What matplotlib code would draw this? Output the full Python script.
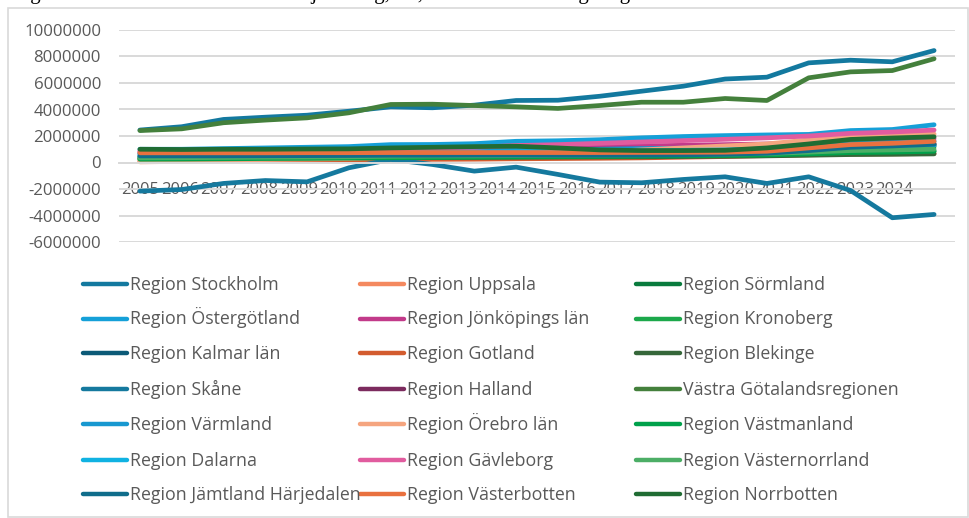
"""Regional results 2005-2024, Excel-style line chart with 3-column legend."""
import matplotlib
matplotlib.use("Agg")
import matplotlib.pyplot as plt
import matplotlib.patches as mpatches
from matplotlib.lines import Line2D
from matplotlib.ticker import FuncFormatter
import numpy as np

W, H = 969, 518

years = list(range(2005, 2025))

# values in millions
stockholm = [2.45, 2.70, 3.25, 3.42, 3.57, 3.87, 4.20, 4.13, 4.33, 4.68, 4.70, 5.00, 5.38, 5.76, 6.30, 6.44, 7.52, 7.72, 7.60, 8.45]
uppsala = [0.05, 0.08, 0.15, 0.20, 0.22, 0.26, 0.30, 0.33, 0.36, 0.40, 0.45, 0.50, 0.55, 0.60, 0.65, 0.72, 0.95, 1.20, 1.30, 1.45]
sormland = [0.40, 0.40, 0.42, 0.44, 0.45, 0.48, 0.52, 0.55, 0.57, 0.60, 0.62, 0.64, 0.66, 0.68, 0.70, 0.75, 0.90, 1.05, 1.10, 1.20]
ostergotland = [1.00, 1.00, 1.05, 1.10, 1.15, 1.20, 1.35, 1.36, 1.42, 1.60, 1.64, 1.72, 1.86, 1.96, 2.03, 2.08, 2.12, 2.41, 2.49, 2.85]
jonkoping = [0.85, 0.85, 0.88, 0.90, 0.92, 0.95, 1.05, 1.08, 1.10, 1.15, 1.18, 1.20, 1.25, 1.30, 1.35, 1.40, 1.50, 1.65, 1.70, 1.80]
kronoberg = [0.28, 0.30, 0.32, 0.33, 0.35, 0.37, 0.40, 0.42, 0.43, 0.45, 0.47, 0.50, 0.52, 0.55, 0.58, 0.62, 0.70, 0.78, 0.80, 0.85]
kalmar = [0.45, 0.45, 0.47, 0.48, 0.50, 0.52, 0.55, 0.56, 0.58, 0.60, 0.60, 0.62, 0.63, 0.65, 0.68, 0.75, 0.95, 1.15, 1.22, 1.30]
gotland = [0.15, 0.16, 0.18, 0.19, 0.20, 0.21, 0.23, 0.24, 0.25, 0.28, 0.30, 0.32, 0.35, 0.40, 0.45, 0.52, 0.58, 0.63, 0.65, 0.68]
blekinge = [0.30, 0.30, 0.31, 0.32, 0.33, 0.34, 0.36, 0.37, 0.38, 0.40, 0.41, 0.42, 0.43, 0.45, 0.47, 0.50, 0.55, 0.60, 0.62, 0.65]
skane = [-2.16, -2.04, -1.58, -1.36, -1.46, -0.40, 0.23, -0.15, -0.65, -0.35, -0.90, -1.48, -1.53, -1.28, -1.08, -1.58, -1.08, -2.11, -4.17, -3.92]
halland = [0.70, 0.70, 0.72, 0.74, 0.76, 0.78, 0.85, 0.88, 0.90, 0.95, 0.98, 1.00, 1.02, 1.05, 1.08, 1.12, 1.20, 1.30, 1.32, 1.38]
vgr = [2.41, 2.54, 3.00, 3.20, 3.37, 3.75, 4.38, 4.40, 4.30, 4.20, 4.08, 4.30, 4.55, 4.55, 4.83, 4.68, 6.39, 6.84, 6.94, 7.83]
varmland = [0.65, 0.66, 0.68, 0.70, 0.72, 0.75, 0.82, 0.85, 0.88, 0.95, 0.98, 1.00, 1.05, 1.08, 1.12, 1.18, 1.30, 1.45, 1.50, 1.60]
orebro = [0.10, 0.12, 0.18, 0.22, 0.26, 0.30, 0.40, 0.45, 0.50, 0.60, 0.70, 0.80, 0.95, 1.10, 1.25, 1.40, 1.70, 2.00, 2.05, 2.15]
vastmanland = [0.25, 0.26, 0.28, 0.30, 0.31, 0.33, 0.36, 0.38, 0.40, 0.42, 0.44, 0.46, 0.48, 0.50, 0.53, 0.57, 0.65, 0.75, 0.78, 0.85]
dalarna = [0.55, 0.56, 0.58, 0.60, 0.62, 0.65, 0.72, 0.74, 0.76, 0.80, 0.82, 0.85, 0.88, 0.92, 0.95, 1.00, 1.10, 1.20, 1.25, 1.30]
gavleborg = [0.80, 0.82, 0.85, 0.88, 0.90, 0.95, 1.05, 1.10, 1.15, 1.28, 1.35, 1.45, 1.55, 1.65, 1.75, 1.86, 2.00, 2.20, 2.30, 2.45]
vasternorrland = [0.35, 0.36, 0.38, 0.40, 0.41, 0.43, 0.47, 0.49, 0.50, 0.52, 0.54, 0.56, 0.58, 0.60, 0.63, 0.68, 0.78, 0.90, 0.95, 1.00]
jamtland = [0.50, 0.50, 0.50, 0.51, 0.52, 0.53, 0.55, 0.55, 0.56, 0.56, 0.55, 0.55, 0.56, 0.58, 0.62, 0.70, 0.90, 1.15, 1.25, 1.38]
vasterbotten = [0.73, 0.73, 0.73, 0.73, 0.74, 0.74, 0.75, 0.75, 0.75, 0.75, 0.75, 0.75, 0.76, 0.77, 0.78, 0.85, 1.10, 1.35, 1.45, 1.60]
norrbotten = [1.00, 0.98, 1.00, 1.00, 1.02, 1.03, 1.10, 1.15, 1.20, 1.23, 1.10, 0.95, 0.90, 0.90, 0.92, 1.10, 1.40, 1.74, 1.85, 1.94]

# legend order (row by row, 3 columns)
regions = [
    ("Region Stockholm", stockholm, "#13799f"),
    ("Region Uppsala", uppsala, "#f4895f"),
    ("Region Sörmland", sormland, "#097b3d"),
    ("Region Östergötland", ostergotland, "#15a0d8"),
    ("Region Jönköpings län", jonkoping, "#c23a8a"),
    ("Region Kronoberg", kronoberg, "#1ca84b"),
    ("Region Kalmar län", kalmar, "#0c5a77"),
    ("Region Gotland", gotland, "#d35c2f"),
    ("Region Blekinge", blekinge, "#36673a"),
    ("Region Skåne", skane, "#15799e"),
    ("Region Halland", halland, "#7c2b5e"),
    ("Västra Götalandsregionen", vgr, "#44803c"),
    ("Region Värmland", varmland, "#1898d0"),
    ("Region Örebro län", orebro, "#f5a57f"),
    ("Region Västmanland", vastmanland, "#00a14b"),
    ("Region Dalarna", dalarna, "#10b2e2"),
    ("Region Gävleborg", gavleborg, "#e15c9f"),
    ("Region Västernorrland", vasternorrland, "#4cae66"),
    ("Region Jämtland Härjedalen", jamtland, "#106d8b"),
    ("Region Västerbotten", vasterbotten, "#e9713f"),
    ("Region Norrbotten", norrbotten, "#206c33"),
]

TEXT = "#595959"
GRID = "#d9d9d9"
FONT = "Open Sans"


def fx(px):
    return px / W


def fy(py):
    return 1 - py / H


fig = plt.figure(figsize=(W / 100, H / 100), dpi=100)

# chart frame
fig.add_artist(mpatches.Rectangle((fx(8), fy(517)), fx(960), 509 / H,
                                  transform=fig.transFigure, facecolor="none",
                                  edgecolor=GRID, linewidth=1.2))

# clipped caption line above the chart
fig.text(fx(0), fy(-1), "Diagram 3. Resultat före balanskravsjustering, tkr, 2005–2024 samtliga regioner",
         family="Liberation Serif", fontsize=15, color="black", va="baseline", ha="left")

ax = fig.add_axes([fx(119), fy(242), fx(836), 212 / H])

x = np.arange(len(years))
for name, vals, color in regions:
    ax.plot(x, np.array(vals) * 1e6, color=color, linewidth=3.4,
            solid_capstyle="round", solid_joinstyle="round")

ax.set_xlim(-0.5, len(years) - 0.5)
ax.set_ylim(-6e6, 10e6)
ax.set_yticks(np.arange(-6e6, 10e6 + 1, 2e6))
ax.yaxis.set_major_formatter(FuncFormatter(lambda v, p: f"{int(round(v))}"))
# Excel packs the year labels edge to edge, slightly tighter than the points
ax.set_xticks(x * 0.95)
ax.set_xticklabels([str(y) for y in years])
ax.yaxis.grid(True, color=GRID, linewidth=1.4)
ax.set_axisbelow(True)
for s in ("top", "right", "left"):
    ax.spines[s].set_visible(False)
ax.spines["bottom"].set_position(("data", 0))
ax.spines["bottom"].set_color(GRID)
ax.spines["bottom"].set_linewidth(1.4)
ax.tick_params(length=0)
ax.tick_params(axis="y", pad=13, labelsize=12.1, labelcolor=TEXT)
ax.tick_params(axis="x", pad=14, labelsize=11.9, labelcolor=TEXT)
for lab in ax.get_xticklabels() + ax.get_yticklabels():
    lab.set_family(FONT)

# legend: 3 fixed-width columns, 7 rows
col_x = [83, 360, 636]
row_y = [284, 318.5, 353, 389, 424, 459.5, 494]
for i, (name, vals, color) in enumerate(regions):
    r, c = divmod(i, 3)
    x0, y0 = col_x[c], row_y[r]
    fig.add_artist(Line2D([fx(x0), fx(x0 + 44)], [fy(y0), fy(y0)],
                          transform=fig.transFigure, color=color, linewidth=3.2,
                          solid_capstyle="round"))
    fig.text(fx(x0 + 47), fy(y0 + 6), name, family=FONT, fontsize=12.8, color=TEXT,
             va="baseline", ha="left")

fig.savefig("out.png", dpi=100)
